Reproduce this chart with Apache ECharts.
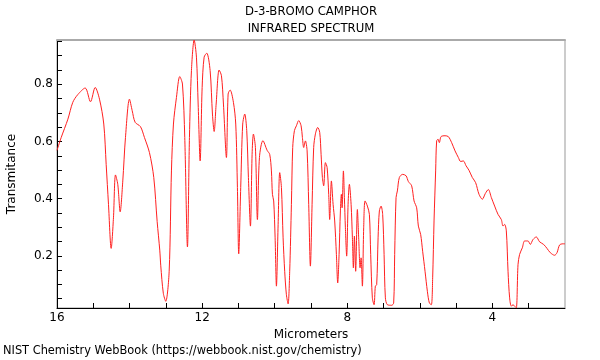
<!DOCTYPE html>
<html><head><meta charset="utf-8">
<script src="https://cdn.jsdelivr.net/npm/echarts@6/dist/echarts.min.js"></script>
<style>html,body{margin:0;padding:0;background:#fff}#c{width:600px;height:360px}</style>
</head><body><div id="c"></div>
<script>
const titleLines = ['D-3-BROMO CAMPHOR', 'INFRARED SPECTRUM'];
const xName = 'Micrometers';
const yName = 'Transmitance';
const footer = 'NIST Chemistry WebBook (https://webbook.nist.gov/chemistry)';
const xTickLabels = [16, 12, 8, 4];
const xMinorTicks = [3, 4, 5, 6, 7, 8, 9, 10, 11, 12, 13, 14, 15, 16];
const yTickLabels = [0.2, 0.4, 0.6, 0.8];
const yMinorTicks = [0.05, 0.1, 0.15, 0.2, 0.25, 0.3, 0.35, 0.4, 0.45, 0.5, 0.55, 0.6, 0.65, 0.7, 0.75, 0.8, 0.85, 0.9, 0.95];

// wavelength (micrometers)
const wavelength = [
16.00,15.884,15.70,15.565,15.427,15.223,15.077,14.948,14.829,14.711,14.645,14.581,14.507,14.444,14.388,14.325,14.259,14.187,14.113,14.003,
13.928,13.846,13.700,13.590,13.452,13.333,13.240,13.168,13.140,13.070,13.003,12.909,12.846,12.791,12.708,12.617,12.543,12.479,12.405,12.350,12.295,
12.220,12.157,12.110,12.055,12.000,11.945,11.873,11.780,11.716,11.669,11.614,11.532,11.468,11.413,11.331,11.284,11.229,11.138,11.074,11.028,
10.992,10.937,10.882,10.826,10.771,10.725,10.669,10.623,10.587,10.532,10.477,10.421,10.325,10.209,10.138,10.091,10.063,10.028,9.989,9.953,
9.906,9.862,9.815,9.769,9.725,9.678,9.631,9.587,9.540,9.504,9.457,9.402,9.339,9.273,9.237,9.201,9.154,9.107,9.063,9.017,
8.970,8.926,8.879,8.815,8.760,8.722,8.686,8.650,8.603,8.556,8.512,8.485,8.438,8.391,8.347,8.300,8.264,8.226,8.190,8.163,
8.143,8.107,8.080,8.052,8.017,7.978,7.942,7.895,7.859,7.832,7.804,7.769,7.722,7.686,7.647,7.620,7.584,7.548,7.510,7.446,
7.391,7.355,7.309,7.262,7.226,7.190,7.151,7.116,7.069,7.025,6.986,6.950,6.895,6.777,6.722,6.694,6.656,6.620,6.565,6.474,
6.380,6.317,6.226,6.160,6.088,6.041,5.978,5.923,5.857,5.793,5.738,5.683,5.647,5.609,5.565,5.537,5.499,5.463,5.416,5.306,
5.215,5.124,5.030,4.939,4.876,4.802,4.727,4.645,4.554,4.463,4.369,4.278,4.196,4.113,4.030,3.939,3.846,3.755,3.708,3.664,
3.617,3.570,3.526,3.479,3.433,3.388,3.342,3.295,3.251,3.176,3.113,3.019,2.956,2.882,2.791,2.700,2.590,2.496,2.405,2.287,
2.220,2.149,2.055,2.000
];
// transmittance
const transmittance = [
0.569,0.614,0.678,0.737,0.764,0.787,0.739,0.789,0.748,0.661,0.520,0.380,0.226,0.333,0.483,0.450,0.354,0.462,0.614,0.748,
0.708,0.667,0.652,0.614,0.561,0.474,0.320,0.220,0.165,0.069,0.041,0.146,0.497,0.661,0.754,0.827,0.801,0.614,0.231,0.614,0.848,
0.955,0.895,0.731,0.532,0.789,0.895,0.909,0.848,0.696,0.635,0.731,0.850,0.830,0.731,0.544,0.766,0.780,0.737,0.661,0.439,
0.207,0.439,0.661,0.696,0.638,0.474,0.304,0.555,0.626,0.579,0.327,0.544,0.603,0.569,0.555,0.497,0.415,0.392,0.263,0.094,
0.310,0.491,0.439,0.263,0.146,0.064,0.032,0.146,0.380,0.579,0.638,0.655,0.673,0.655,0.614,0.579,0.602,0.567,0.380,0.164,
0.380,0.579,0.626,0.649,0.632,0.555,0.474,0.445,0.526,0.509,0.415,0.327,0.462,0.380,0.322,0.205,0.105,0.205,0.357,0.415,
0.368,0.497,0.404,0.298,0.199,0.380,0.450,0.380,0.263,0.158,0.269,0.146,0.362,0.263,0.158,0.193,0.094,0.298,0.392,0.374,
0.345,0.205,0.053,0.029,0.094,0.099,0.263,0.357,0.374,0.345,0.205,0.053,0.029,0.027,0.035,0.205,0.404,0.427,0.474,0.485,
0.480,0.460,0.445,0.392,0.368,0.304,0.275,0.216,0.146,0.076,0.035,0.029,0.123,0.322,0.497,0.602,0.608,0.596,0.617,0.620,
0.617,0.596,0.567,0.544,0.530,0.532,0.515,0.499,0.474,0.456,0.415,0.398,0.418,0.432,0.404,0.374,0.345,0.327,0.304,0.310,
0.287,0.146,0.053,0.024,0.029,0.024,0.018,0.169,0.205,0.228,0.252,0.252,0.240,0.257,0.266,0.249,0.240,0.226,0.211,0.202,
0.211,0.238,0.242,0.242
];

const FONT = 'DejaVu Sans';
const chart = echarts.init(document.getElementById('c'), null, {renderer: 'canvas'});
const pts = wavelength.map((w, i) => [w, transmittance[i]]);
const plotLeft = 57, plotRight = 35, plotTop = 40, plotBottom = 52;
const cx = plotLeft + (600 - plotLeft - plotRight) / 2;

chart.setOption({
  animation: false,
  backgroundColor: '#fff',
  grid: {left: plotLeft, right: plotRight, top: plotTop, bottom: plotBottom, show: true,
    borderColor: '#999', borderWidth: 1, containLabel: false, outerBoundsMode: 'none'},
  xAxis: [{
    type: 'value', min: 2, max: 16, inverse: true,
    name: xName, nameLocation: 'middle', nameGap: 18,
    nameTextStyle: {fontFamily: FONT, fontSize: 12, color: '#000'},
    axisLine: {lineStyle: {color: '#000', width: 1}},
    axisTick: {inside: true, length: 5, customValues: xMinorTicks, lineStyle: {color: '#000'}},
    axisLabel: {customValues: xTickLabels, fontFamily: FONT, fontSize: 12, color: '#000', margin: 4},
    splitLine: {show: false}
  }, {
    type: 'value', min: 2, max: 16, inverse: true, position: 'top',
    axisLine: {show: true, lineStyle: {color: '#aaa', width: 2}},
    axisTick: {show: false}, axisLabel: {show: false}, splitLine: {show: false}
  }],
  yAxis: {
    type: 'value', min: 0.0175, max: 0.955,
    name: yName, nameLocation: 'middle', nameGap: 39,
    nameTextStyle: {fontFamily: FONT, fontSize: 12, color: '#000'},
    axisLine: {show: true, lineStyle: {color: '#000', width: 1}},
    axisTick: {show: true, inside: true, length: 5, customValues: yMinorTicks, lineStyle: {color: '#000'}},
    axisLabel: {customValues: yTickLabels, fontFamily: FONT, fontSize: 12, color: '#000', margin: 4,
      formatter: v => v.toFixed(1)},
    splitLine: {show: false}
  },
  graphic: [
    {type: 'text', x: cx, y: 6, style: {text: titleLines[0], fontFamily: FONT, fontSize: 11.7, fill: '#000', textAlign: 'center', textVerticalAlign: 'top'}},
    {type: 'text', x: cx, y: 23, style: {text: titleLines[1], fontFamily: FONT, fontSize: 11.7, fill: '#000', textAlign: 'center', textVerticalAlign: 'top'}},
    {type: 'text', x: 3, y: 346, style: {text: footer, fontFamily: FONT, fontSize: 11.4, fill: '#000', textVerticalAlign: 'top'}}
  ],
  series: [{
    type: 'line', data: pts, showSymbol: false, smooth: 0.3,
    lineStyle: {color: '#ff2020', width: 1},
    clip: true
  }]
});
</script></body></html>
